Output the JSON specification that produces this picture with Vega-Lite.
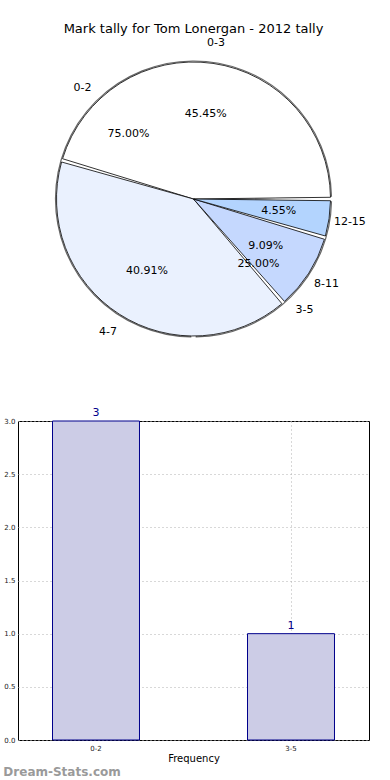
{
  "$schema": "https://vega.github.io/schema/vega-lite/v6.json",
  "padding": {"left": 3, "top": 22, "right": 0, "bottom": 0},
  "background": "white",
  "config": {
    "font": "DejaVu Sans",
    "view": {"stroke": null}
  },
  "title": {"text": "Dream-Stats.com", "orient": "bottom", "anchor": "start", "frame": "bounds", "color": "#9a9a9a", "fontSize": 12, "fontWeight": "bold", "offset": 3},
  "datasets": {
    "slices": [
      {"pie": "A", "ord": 1, "band": "0-2", "share": 0.75},
      {"pie": "A", "ord": 2, "band": "3-5", "share": 0.25},
      {"pie": "B", "ord": 1, "band": "0-3", "share": 0.4545},
      {"pie": "B", "ord": 2, "band": "4-7", "share": 0.4091},
      {"pie": "B", "ord": 3, "band": "8-11", "share": 0.0909},
      {"pie": "B", "ord": 4, "band": "12-15", "share": 0.0455}
    ],
    "freq": [
      {"band": "0-2", "count": 3},
      {"band": "3-5", "count": 1}
    ]
  },
  "spacing": 72,
  "bounds": "flush",
  "vconcat": [
    {
      "width": 351,
      "height": 300,
      "title": {"text": "Mark tally for Tom Lonergan - 2012 tally", "fontSize": 13, "fontWeight": "normal", "color": "black", "offset": 1},
      "data": {"name": "slices"},
      "encoding": {
        "theta": {"field": "share", "type": "quantitative", "stack": true, "scale": {"domain": [0, 1], "range": [1.5708, -4.7124]}},
        "order": {"field": "ord", "type": "quantitative"}
      },
      "layer": [
        {
          "transform": [{"filter": "datum.pie === 'A'"}],
          "mark": {"type": "arc", "radius": 138, "stroke": "#666", "strokeWidth": 1.2, "padAngle": 0.04},
          "encoding": {
            "color": {"field": "band", "type": "nominal", "legend": null,
              "scale": {"domain": ["0-2", "3-5", "0-3", "4-7", "8-11", "12-15"], "range": ["#ffffff", "#ffffff", "#ffffff", "#eaf1fe", "#c5d8fe", "#b3d4fe"]}}
          }
        },
        {
          "transform": [{"filter": "datum.pie === 'B'"}],
          "mark": {"type": "arc", "radius": 137, "stroke": "black", "strokeWidth": 0.8, "padAngle": 0.025},
          "encoding": {
            "color": {"field": "band", "type": "nominal", "legend": null}
          }
        },
        {
          "transform": [{"filter": "datum.pie === 'A'"}],
          "mark": {"type": "text", "radius": 157, "fontSize": 11, "color": "black"},
          "encoding": {"text": {"field": "band", "type": "nominal"}}
        },
        {
          "transform": [{"filter": "datum.pie === 'A'"}],
          "mark": {"type": "text", "radius": 92, "fontSize": 11, "color": "black"},
          "encoding": {"text": {"field": "share", "type": "quantitative", "format": ".2%"}}
        },
        {
          "transform": [{"filter": "datum.pie === 'B'"}],
          "mark": {"type": "text", "radius": 158, "fontSize": 11, "color": "black"},
          "encoding": {"text": {"field": "band", "type": "nominal"}}
        },
        {
          "transform": [{"filter": "datum.pie === 'B'"}],
          "mark": {"type": "text", "radius": 86, "fontSize": 11, "color": "black"},
          "encoding": {"text": {"field": "share", "type": "quantitative", "format": ".2%"}}
        }
      ]
    },
    {
      "width": 351,
      "height": 319,
      "data": {"name": "freq"},
      "view": {"stroke": "black", "strokeWidth": 1},
      "encoding": {
        "x": {"field": "band", "type": "nominal",
          "scale": {"paddingInner": 0.554, "paddingOuter": 0.177},
          "axis": {"labelAngle": 0, "title": "Frequency", "titleFontSize": 10, "titleFontWeight": "normal", "titlePadding": 2, "labelFontSize": 7, "labelColor": "#222", "labelPadding": 4, "ticks": false, "domain": false, "bandPosition": 0.5, "grid": true, "gridColor": "#b0b0b0", "gridDash": [1, 3]}},
        "y": {"field": "count", "type": "quantitative",
          "scale": {"domain": [0, 3], "nice": false},
          "axis": {"values": [0, 0.5, 1, 1.5, 2, 2.5, 3], "format": ".1f", "title": null, "labelFontSize": 7, "labelColor": "#222", "labelPadding": 3, "ticks": false, "domain": false, "grid": true, "gridColor": "#b0b0b0", "gridDash": [1, 3]}}
      },
      "layer": [
        {"mark": {"type": "bar", "fill": "#ccccE6", "stroke": "#00008b", "strokeWidth": 1}},
        {"mark": {"type": "text", "dy": -8, "fontSize": 11, "color": "#00008b"},
         "encoding": {"text": {"field": "count", "type": "quantitative"}}}
      ]
    }
  ]
}
